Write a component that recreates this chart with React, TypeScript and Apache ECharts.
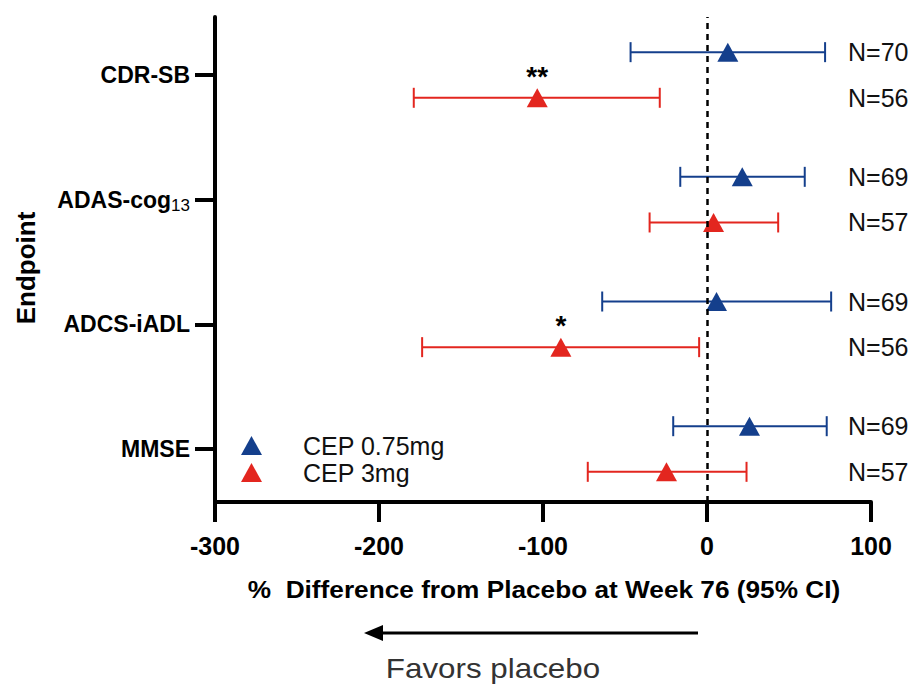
import React, { useEffect, useRef } from "react";
import * as echarts from "echarts";

const endpoints = ["CDR-SB", "ADAS-cog13", "ADCS-iADL", "MMSE"];
const endpointPos = [4, 3, 2, 1];

const lowDoseName = "CEP 0.75mg";
const lowDoseMean = [12.7, 21.5, 5.8, 25.9];
const lowDoseLow = [-46.6, -16.3, -63.9, -20.6];
const lowDoseHigh = [72.0, 59.6, 75.7, 73.0];
const lowDoseN = [70, 69, 69, 69];

const highDoseName = "CEP 3mg";
const highDoseMean = [-103.5, 4.0, -89.1, -24.7];
const highDoseLow = [-178.8, -35.0, -173.7, -72.7];
const highDoseHigh = [-28.8, 43.4, -4.8, 24.1];
const highDoseN = [56, 57, 56, 57];
const highDoseSig = ["**", "", "*", ""];

const xTicks = [-300, -200, -100, 0, 100];

const BLUE = "#143f8c";
const RED = "#e3261f";
const FONT = "'Liberation Sans', Arial, Helvetica, sans-serif";
const OFFSET = 0.183;

function errorRender(color: string) {
  return (params: any, api: any) => {
    const y = api.value(2);
    const a = api.coord([api.value(0), y]);
    const b = api.coord([api.value(1), y]);
    const cs = params.coordSys;
    const h = 10;
    return {
      type: "group",
      children: [
        { type: "line", shape: { x1: a[0], y1: a[1], x2: b[0], y2: b[1] }, style: { stroke: color, lineWidth: 2 } },
        { type: "line", shape: { x1: a[0], y1: a[1] - h, x2: a[0], y2: a[1] + h }, style: { stroke: color, lineWidth: 2 } },
        { type: "line", shape: { x1: b[0], y1: b[1] - h, x2: b[0], y2: b[1] + h }, style: { stroke: color, lineWidth: 2 } },
        {
          type: "text",
          x: cs.x + cs.width - 23,
          y: a[1],
          style: { text: "N=" + api.value(3), fill: "#111", fontSize: 25, fontFamily: FONT, align: "left", verticalAlign: "middle" },
        },
      ],
    };
  };
}

export default function App() {
  const ref = useRef<HTMLDivElement>(null);
  useEffect(() => {
    if (!ref.current) return;
    const chart = echarts.init(ref.current, undefined, { renderer: "svg" });
    const lowErr = endpoints.map((_, i) => [lowDoseLow[i], lowDoseHigh[i], endpointPos[i] + OFFSET, lowDoseN[i]]);
    const highErr = endpoints.map((_, i) => [highDoseLow[i], highDoseHigh[i], endpointPos[i] - OFFSET, highDoseN[i]]);
    const lowPts = endpoints.map((_, i) => [lowDoseMean[i], endpointPos[i] + OFFSET]);
    const highPts = endpoints.map((_, i) => ({ value: [highDoseMean[i], endpointPos[i] - OFFSET], sig: highDoseSig[i] }));

    chart.setOption({
      animation: false,
      backgroundColor: "#fff",
      grid: { left: 215, right: 46, top: 17, bottom: 185 },
      xAxis: {
        type: "value",
        min: -300,
        max: 100,
        interval: 100,
        axisLine: { show: true, onZero: false, lineStyle: { color: "#000", width: 4 } },
        axisTick: { show: true, length: 20, lineStyle: { color: "#000", width: 4 } },
        axisLabel: { color: "#000", fontSize: 25, fontWeight: "bold", fontFamily: FONT, margin: 31, customValues: xTicks },
        splitLine: { show: false },
      },
      yAxis: {
        type: "value",
        min: 0.575,
        max: 4.465,
        axisLine: { show: true, onZero: false, lineStyle: { color: "#000", width: 4 } },
        axisTick: { show: true, length: 20, lineStyle: { color: "#000", width: 4 }, customValues: endpointPos },
        axisLabel: {
          customValues: endpointPos,
          margin: 25,
          formatter: (v: number) => {
            const idx = endpointPos.indexOf(Math.round(v));
            if (idx < 0) return "";
            const name = endpoints[idx];
            if (name === "ADAS-cog13") return "{b|ADAS-cog}{s|13}";
            return "{b|" + name + "}";
          },
          rich: {
            b: { fontSize: 23, fontWeight: "bold", color: "#000", fontFamily: FONT },
            s: { fontSize: 17, color: "#000", fontFamily: FONT, padding: [12, 0, 0, 0] },
          },
        },
        splitLine: { show: false },
      },
      legend: {
        orient: "vertical",
        left: 236,
        top: 428,
        itemWidth: 21,
        itemHeight: 19,
        itemGap: 2,
        icon: "triangle",
        textStyle: { fontSize: 25, lineHeight: 25, color: "#111", fontFamily: FONT, padding: [0, 0, 0, 36] },
        data: [lowDoseName, highDoseName],
      },
      series: [
        {
          type: "custom",
          name: lowDoseName + " CI",
          renderItem: errorRender(BLUE),
          data: lowErr,
          z: 2,
          markLine: {
            silent: true,
            symbol: "none",
            label: { show: false },
            lineStyle: { color: "#000", type: [6, 5], width: 2.5 },
            data: [{ xAxis: 0 }],
          },
        },
        {
          type: "custom",
          name: highDoseName + " CI",
          renderItem: errorRender(RED),
          data: highErr,
          z: 2,
        },
        {
          type: "scatter",
          name: lowDoseName,
          symbol: "triangle",
          symbolSize: [21, 19],
          itemStyle: { color: BLUE, opacity: 1 },
          data: lowPts,
          z: 3,
        },
        {
          type: "scatter",
          name: highDoseName,
          symbol: "triangle",
          symbolSize: [21, 19],
          itemStyle: { color: RED, opacity: 1 },
          data: highPts,
          z: 3,
          label: {
            show: true,
            position: "top",
            distance: -2,
            formatter: (p: any) => p.data.sig,
            color: "#000",
            fontSize: 28,
            fontWeight: "bold",
            fontFamily: FONT,
          },
        },
      ],
      graphic: [
        {
          type: "text",
          x: 544,
          y: 590,
          scaleX: 1.14,
          style: {
            text: "%  Difference from Placebo at Week 76 (95% CI)",
            fontSize: 23,
            fontWeight: "bold",
            fill: "#000",
            fontFamily: FONT,
            align: "center",
            verticalAlign: "middle",
          },
        },
        {
          type: "text",
          x: 26,
          y: 268,
          rotation: Math.PI / 2,
          style: { text: "Endpoint", fontSize: 26, fontWeight: "bold", fill: "#000", fontFamily: FONT, align: "center", verticalAlign: "middle" },
        },
        {
          type: "line",
          shape: { x1: 698, y1: 633, x2: 380, y2: 633 },
          style: { stroke: "#000", lineWidth: 3 },
        },
        {
          type: "polygon",
          shape: { points: [[364, 633], [383, 625], [383, 641]] },
          style: { fill: "#000" },
        },
        {
          type: "text",
          x: 493,
          y: 668,
          scaleX: 1.12,
          style: { text: "Favors placebo", fontSize: 28, fill: "#333", fontFamily: FONT, align: "center", verticalAlign: "middle" },
        },
      ],
    });
    return () => chart.dispose();
  }, []);
  return <div ref={ref} style={{ width: 917, height: 687, position: "absolute", left: 0, top: 0 }} />;
}
